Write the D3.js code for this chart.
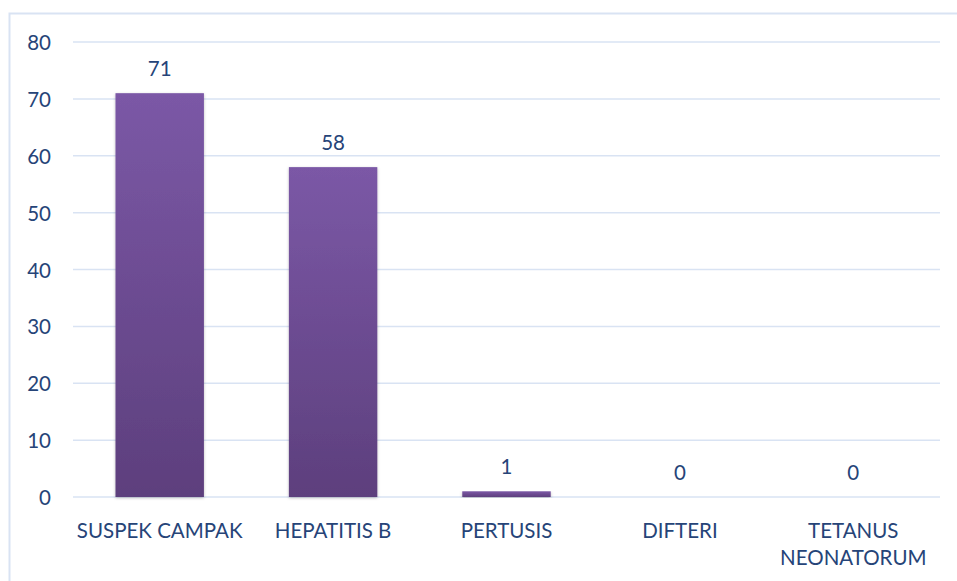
<!DOCTYPE html>
<html>
<head>
<meta charset="utf-8">
<script src="https://cdn.jsdelivr.net/npm/d3@7"></script>
<style>
  html, body { margin: 0; padding: 0; background: #ffffff; }
  svg { display: block; }
  text { font-family: Lato, "Open Sans", sans-serif; }
</style>
</head>
<body>
<svg id="chart" width="957" height="581"></svg>
<script>
// Case counts per disease
const categories = [["SUSPEK CAMPAK"], ["HEPATITIS B"], ["PERTUSIS"], ["DIFTERI"], ["TETANUS", "NEONATORUM"]];
const values = [71, 58, 1, 0, 0];
const yTicks = [0, 10, 20, 30, 40, 50, 60, 70, 80];

const svg = d3.select("#chart");
const W = 957, H = 581;
const plot = { left: 73, right: 940, top: 42, bottom: 497 };
const textColor = "#264478";
const gridColor = "#d9e3f3";
const fontSize = 20.5;

// Outer frame
svg.append("rect")
  .attr("x", 9.5).attr("y", 13.5)
  .attr("width", W + 10).attr("height", H + 10)
  .attr("fill", "none").attr("stroke", gridColor).attr("stroke-width", 2);

const defs = svg.append("defs");
const grad = defs.append("linearGradient")
  .attr("id", "barGrad").attr("x1", 0).attr("y1", 0).attr("x2", 0).attr("y2", 1);
grad.append("stop").attr("offset", "0%").attr("stop-color", "#7b58a6");
grad.append("stop").attr("offset", "100%").attr("stop-color", "#5d3f7d");

const shadow = defs.append("filter").attr("id", "barShadow")
  .attr("x", "-20%").attr("y", "-5%").attr("width", "140%").attr("height", "115%");
shadow.append("feDropShadow")
  .attr("dx", 0).attr("dy", 1).attr("stdDeviation", 1.6)
  .attr("flood-color", "#000").attr("flood-opacity", 0.25);

const x = d3.scaleBand()
  .domain(d3.range(categories.length))
  .range([plot.left, plot.right])
  .paddingInner(0.49).paddingOuter(0.245);

const y = d3.scaleLinear().domain([0, 80]).range([plot.bottom, plot.top]);

// Gridlines
svg.append("g")
  .selectAll("line").data(yTicks).join("line")
  .attr("x1", plot.left).attr("x2", plot.right)
  .attr("y1", d => y(d)).attr("y2", d => y(d))
  .attr("stroke", gridColor).attr("stroke-width", 1.5);

// Y axis labels
const yAxis = d3.axisLeft(y).tickValues(yTicks).tickSize(0).tickPadding(0);
const ya = svg.append("g").attr("transform", `translate(51,0)`).call(yAxis);
ya.select(".domain").remove();
ya.selectAll("text")
  .attr("dy", "0.37em")
  .attr("fill", textColor).attr("font-size", fontSize)
  .attr("font-family", "Lato, 'Open Sans', sans-serif");

// Bars
svg.append("g")
  .selectAll("rect").data(values).join("rect")
  .attr("x", (d, i) => x(i))
  .attr("width", x.bandwidth())
  .attr("y", d => y(d))
  .attr("height", d => y(0) - y(d))
  .attr("fill", "url(#barGrad)")
  .attr("filter", "url(#barShadow)");

// Value labels
svg.append("g")
  .selectAll("text").data(values).join("text")
  .attr("x", (d, i) => x(i) + x.bandwidth() / 2)
  .attr("y", d => y(d) - 17)
  .attr("text-anchor", "middle")
  .attr("fill", textColor).attr("font-size", fontSize)
  .text(d => d);

// Category labels
const cat = svg.append("g")
  .selectAll("text").data(categories).join("text")
  .attr("x", (d, i) => x(i) + x.bandwidth() / 2)
  .attr("y", 538)
  .attr("text-anchor", "middle")
  .attr("fill", textColor).attr("font-size", fontSize);
cat.selectAll("tspan").data(d => d).join("tspan")
  .attr("x", function () { return d3.select(this.parentNode).attr("x"); })
  .attr("dy", (d, i) => i === 0 ? 0 : 27)
  .text(d => d);
</script>
</body>
</html>
